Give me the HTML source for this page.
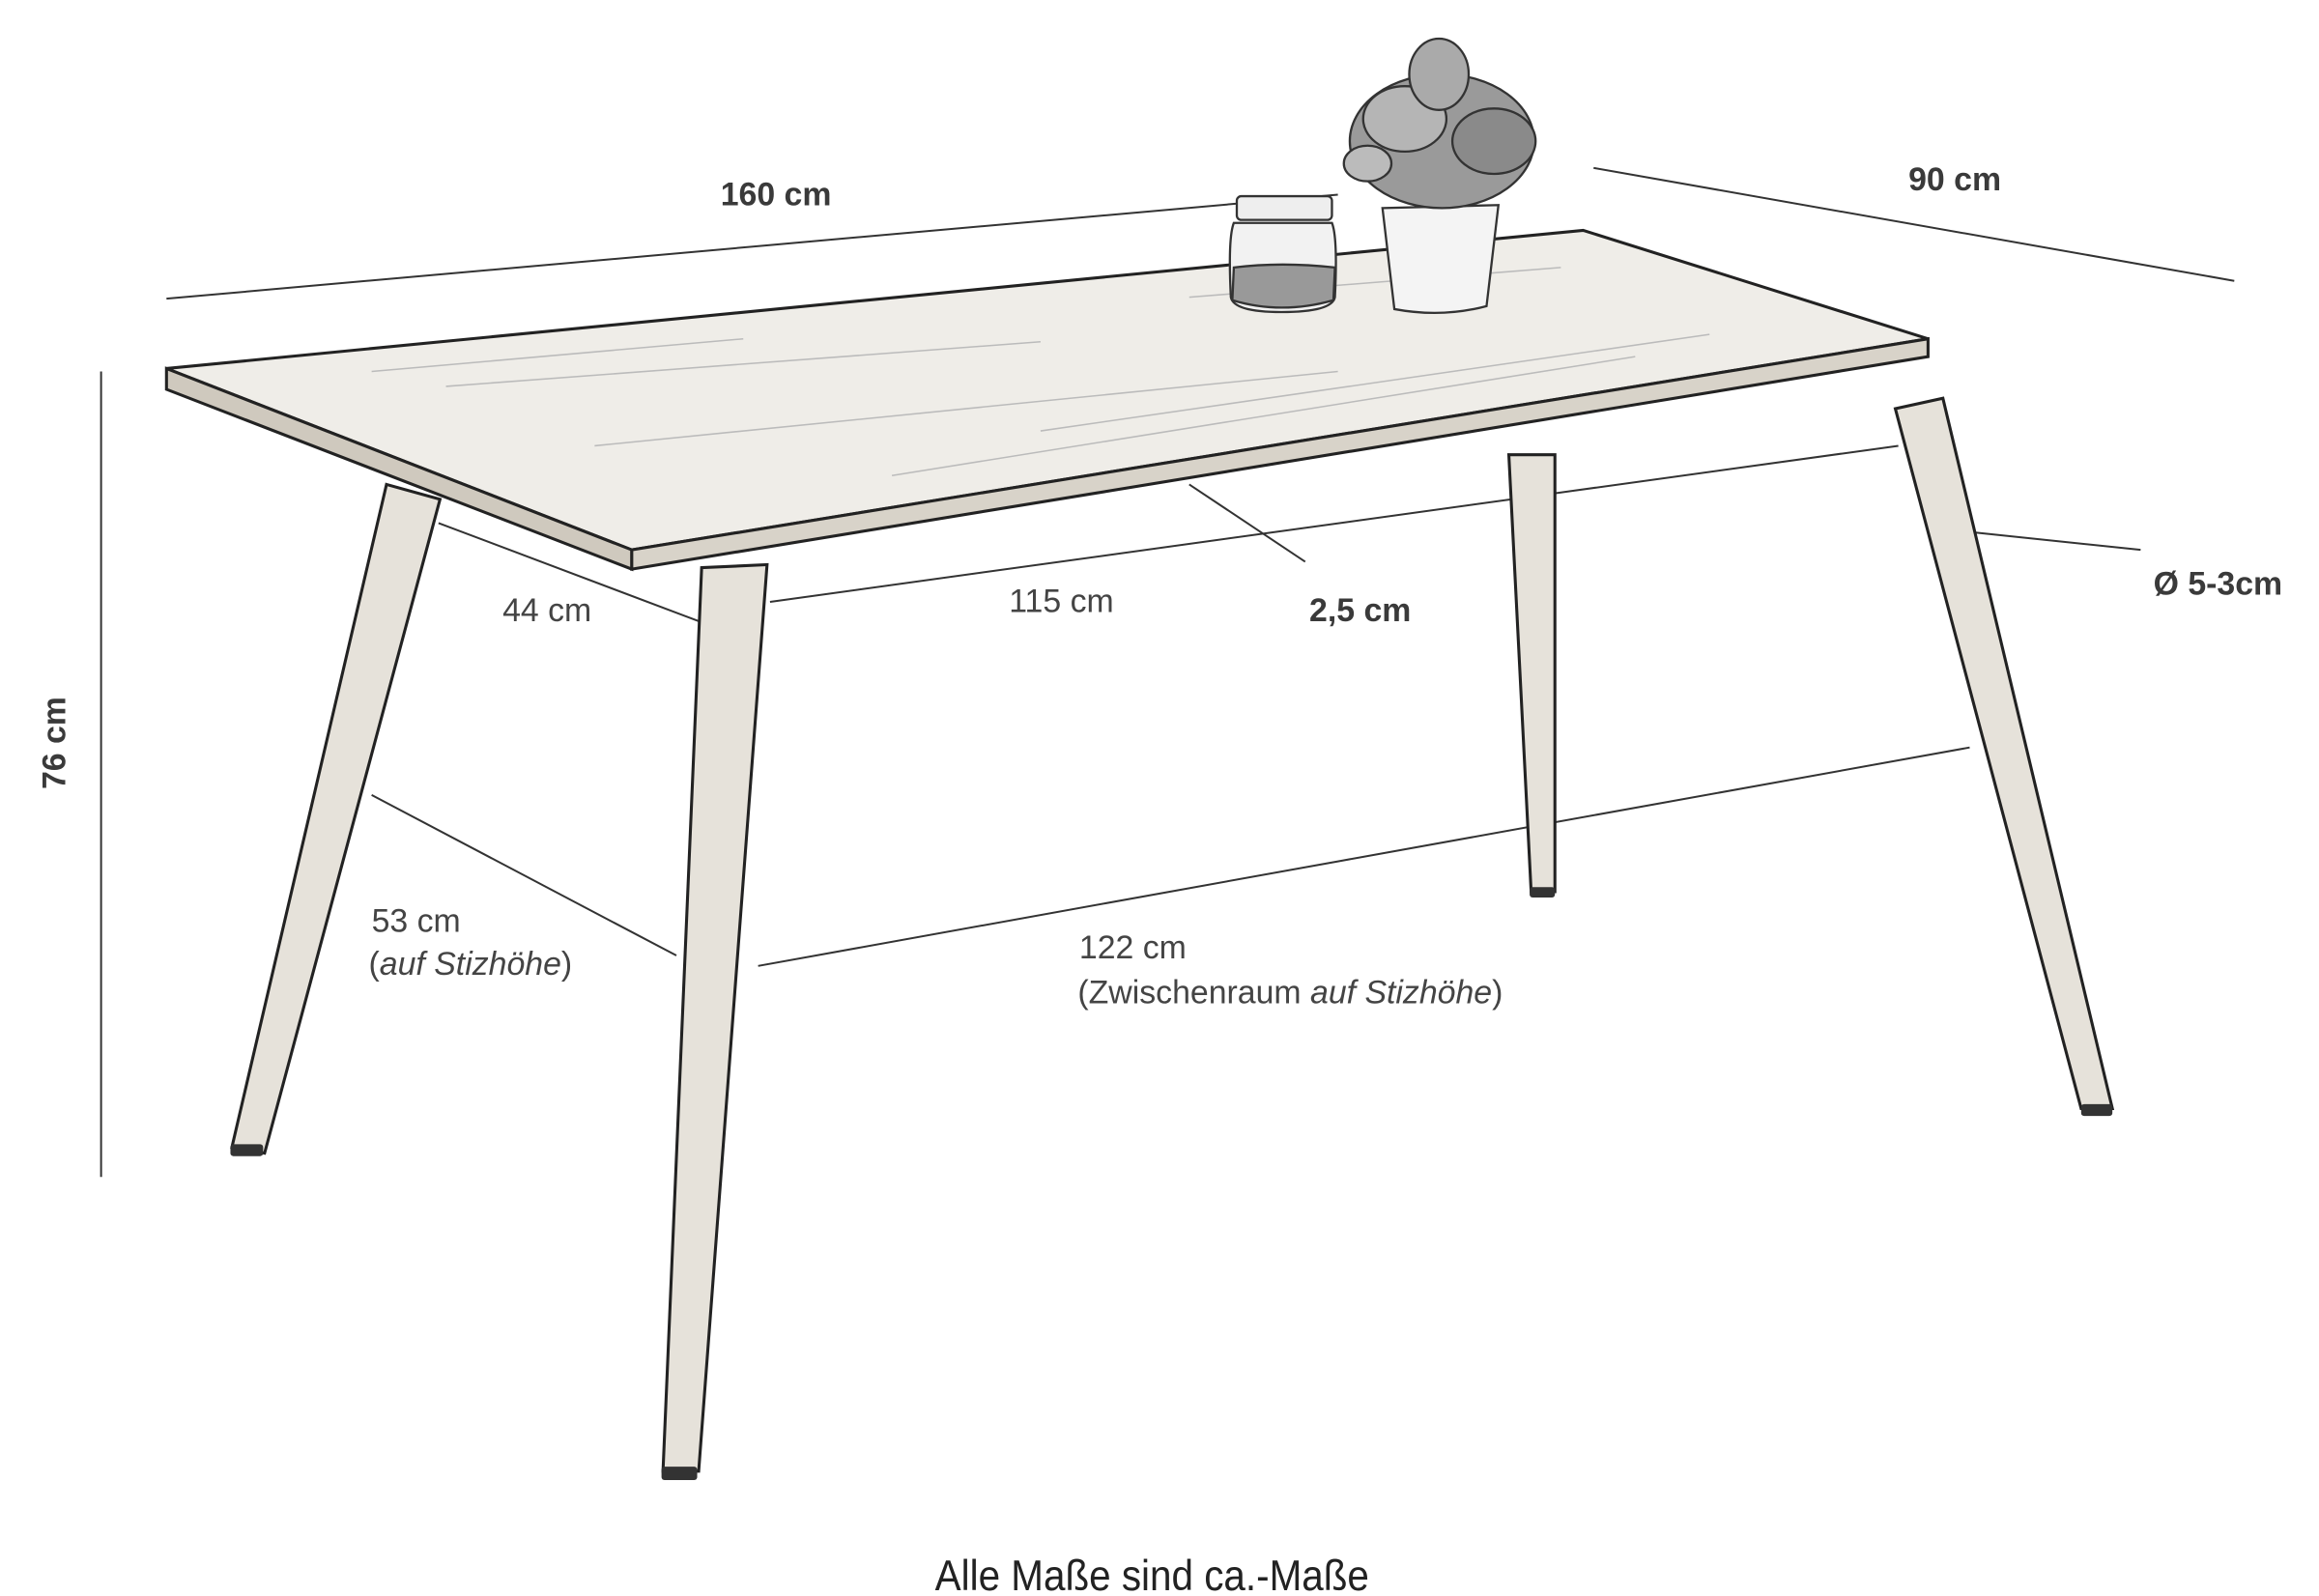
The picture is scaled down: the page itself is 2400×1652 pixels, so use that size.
<!DOCTYPE html>
<html><head><meta charset="utf-8">
<style>
html,body{margin:0;padding:0;background:#fff;width:2400px;height:1652px;overflow:hidden}
svg{display:block}
text{font-family:"Liberation Sans",sans-serif;fill:#444}
.b{font-weight:bold;fill:#3a3a3a}
</style></head>
<body>
<svg width="2400" height="1652" viewBox="0 0 1560 1074" preserveAspectRatio="none" xmlns="http://www.w3.org/2000/svg">
<g stroke="#333" stroke-width="1.3" fill="none">
  <line x1="112" y1="201" x2="900" y2="131"/>
  <line x1="1072" y1="113" x2="1503" y2="189"/>
  <line x1="68" y1="250" x2="68" y2="792"/>
  <line x1="295" y1="352" x2="470" y2="418"/>
  <line x1="518" y1="405" x2="1277" y2="300"/>
  <line x1="800" y1="326" x2="878" y2="378"/>
  <line x1="1325" y1="358" x2="1440" y2="370"/>
  <line x1="250" y1="535" x2="455" y2="643"/>
  <line x1="510" y1="650" x2="1325" y2="503"/>
</g>
<g stroke="#222" stroke-width="2">
  <polygon points="112,248 1065,155 1297,228 425,370" fill="#efede8"/>
  <polygon points="112,248 425,370 425,383 112,262" fill="#cfc9be"/>
  <polygon points="425,370 1297,228 1297,240 425,383" fill="#d8d3c9"/>
</g>
<g stroke="#bbb" stroke-width="1" fill="none">
  <path d="M300 260 L700 230 M400 300 L900 250 M600 320 L1100 240 M250 250 L500 228 M800 200 L1050 180 M700 290 L1150 225"/>
</g>
<g stroke="#222" stroke-width="2" fill="#e6e2da">
  <polygon points="260,326 296,336 178,776 156,772"/>
  <polygon points="472,382 516,380 470,990 446,990"/>
  <polygon points="1015,306 1046,306 1046,600 1030,600"/>
  <polygon points="1275,275 1307,268 1421,746 1400,746"/>
</g>
<g fill="#333">
  <rect x="155" y="770" width="22" height="8" rx="2"/>
  <rect x="445" y="987" width="24" height="9" rx="2"/>
  <rect x="1029" y="597" width="17" height="7" rx="2"/>
  <rect x="1400" y="743" width="21" height="8" rx="2"/>
</g>
<g stroke="#333" stroke-width="1.5">
  <rect x="832" y="132" width="64" height="16" rx="3" fill="#eee"/>
  <path d="M830 150 Q826 160 828 200 Q830 210 862 210 Q896 210 898 200 Q900 160 896 150 Z" fill="#f2f2f2"/>
  <path d="M830 180 Q862 176 898 180 L897 202 Q862 212 829 202 Z" fill="#999"/>
</g>
<g stroke="#333" stroke-width="1.5">
  <path d="M930 140 L1008 138 L1000 206 Q970 214 938 208 Z" fill="#f4f4f4"/>
  <ellipse cx="970" cy="95" rx="62" ry="45" fill="#9a9a9a"/>
  <ellipse cx="945" cy="80" rx="28" ry="22" fill="#b5b5b5"/>
  <ellipse cx="1005" cy="95" rx="28" ry="22" fill="#8a8a8a"/>
  <ellipse cx="968" cy="50" rx="20" ry="24" fill="#aaa"/>
  <ellipse cx="920" cy="110" rx="16" ry="12" fill="#bbb"/>
</g>
<text class="b" x="522" y="138" font-size="22" text-anchor="middle">160 cm</text>
<text class="b" x="1315" y="128" font-size="22" text-anchor="middle">90 cm</text>
<text class="b" x="0" y="0" font-size="22" text-anchor="middle" transform="translate(44,500) rotate(-90)">76 cm</text>
<text x="368" y="418" font-size="22" text-anchor="middle">44 cm</text>
<text x="714" y="412" font-size="22" text-anchor="middle">115 cm</text>
<text class="b" x="915" y="418" font-size="22" text-anchor="middle">2,5 cm</text>
<text class="b" x="1492" y="400" font-size="22" text-anchor="middle">Ø 5-3cm</text>
<text x="250" y="627" font-size="22">53 cm</text>
<text x="248" y="656" font-size="22">(<tspan font-style="italic">auf Stizhöhe</tspan>)</text>
<text x="726" y="645" font-size="22">122 cm</text>
<text x="725" y="675" font-size="22">(Zwischenraum <tspan font-style="italic">auf Stizhöhe</tspan>)</text>
<text x="629" y="1070" font-size="29" textLength="292" lengthAdjust="spacingAndGlyphs" style="fill:#222">Alle Maße sind ca.-Maße</text>
</svg>
</body></html>
